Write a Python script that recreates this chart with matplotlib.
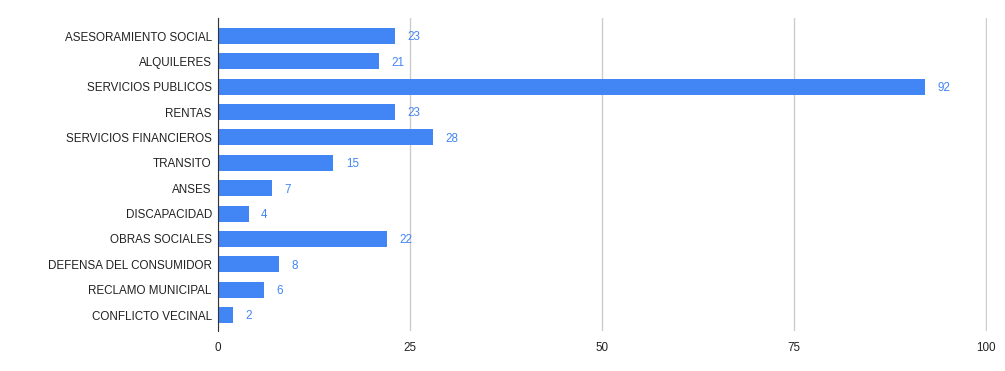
import matplotlib.pyplot as plt

categories = [
    "ASESORAMIENTO SOCIAL",
    "ALQUILERES",
    "SERVICIOS PUBLICOS",
    "RENTAS",
    "SERVICIOS FINANCIEROS",
    "TRANSITO",
    "ANSES",
    "DISCAPACIDAD",
    "OBRAS SOCIALES",
    "DEFENSA DEL CONSUMIDOR",
    "RECLAMO MUNICIPAL",
    "CONFLICTO VECINAL",
]
values = [23, 21, 92, 23, 28, 15, 7, 4, 22, 8, 6, 2]
xticks = [0, 25, 50, 75, 100]

plt.rcParams["font.family"] = ["Liberation Sans", "DejaVu Sans"]

fig = plt.figure(figsize=(10.05, 3.71), dpi=100)
ax = fig.add_axes([218 / 1005, 1 - 331 / 371, 769 / 1005, 313 / 371])

bar_color = "#4285f4"
pos = list(range(len(categories)))
ax.barh(pos, values, height=0.63, color=bar_color, zorder=3)

for p, v in zip(pos, values):
    ax.annotate(str(v), (v, p), xytext=(9, -1), textcoords="offset points",
                va="center", ha="left", fontsize=8.4, color=bar_color)

ax.set_xlim(0, 100.13)
ax.set_ylim(11.63, -0.71)
ax.set_yticks(pos)
ax.set_yticklabels(categories, fontsize=8.4, color="#222222")
ax.set_xticks(xticks)
ax.set_xticklabels([str(t) for t in xticks], fontsize=8.4, color="#222222")
ax.tick_params(length=0, pad=4.5)
ax.tick_params(axis="x", pad=8)

ax.grid(axis="x", color="#cccccc", linewidth=1, zorder=0)
for s in ["top", "right", "bottom"]:
    ax.spines[s].set_visible(False)
ax.spines["left"].set_color("#333333")
ax.spines["left"].set_zorder(4)

fig.savefig("out.png", dpi=100)
